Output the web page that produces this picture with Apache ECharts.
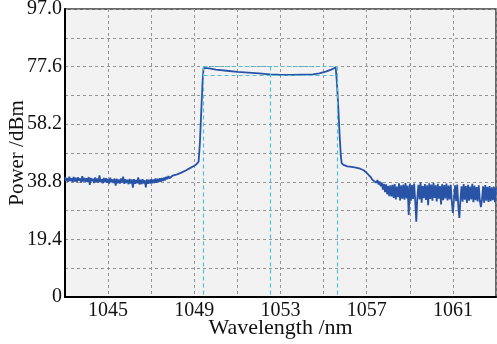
<!DOCTYPE html>
<html>
<head>
<meta charset="utf-8">
<script src="https://cdn.jsdelivr.net/npm/echarts@6/dist/echarts.min.js"></script>
<style>
  html, body { margin: 0; padding: 0; background: #fff; }
  #chart { width: 497px; height: 344px; }
</style>
</head>
<body>
<div id="chart"></div>
<script>
// Axis tick labels
const xLabelValues = [1045, 1049, 1053, 1057, 1061];
const yLabelValues = [0, 19.4, 38.8, 58.2, 77.6, 97.0];

// Sampling of the noisy spectrum wings (nm)
const sampleStep = 0.05;
const leftNoiseStart = 1043.0;
const leftNoiseValues = [
  40.3, 39.0, 40.1, 38.8, 40.5, 39.1, 40.0, 38.7, 40.4, 38.9,
  40.2, 38.6, 40.3, 39.2, 39.9, 38.5, 40.7, 38.9, 40.1, 38.8,
  40.0, 38.7, 40.4, 37.8, 40.1, 39.0, 39.8, 38.4, 40.3, 38.8,
  39.9, 38.5, 41.0, 38.7, 39.7, 38.3, 40.1, 38.6, 40.0, 38.5,
  39.7, 38.2, 40.2, 38.6, 39.6, 38.4, 39.9, 37.5, 39.8, 38.3,
  39.6, 38.2, 39.9, 38.5, 40.5, 38.1, 39.7, 38.4, 39.5, 38.0,
  39.8, 38.2, 39.6, 36.8, 39.7, 38.1, 39.4, 38.3, 40.3, 37.9,
  39.5, 38.0, 39.7, 38.2, 39.3, 36.9, 39.6, 38.1, 39.5, 38.2,
  39.7, 38.3, 39.6, 38.4, 39.9, 38.5, 39.8, 38.7, 40.0, 38.8,
  40.1, 39.1, 40.2, 39.3, 40.5, 39.7, 40.7, 40.0
];

// Rising edge of the pulse spectrum
const riseWl  = [1047.90, 1048.00, 1048.20, 1048.40, 1048.60, 1048.80, 1049.00, 1049.10, 1049.20, 1049.26, 1049.32, 1049.38, 1049.43];
const riseVal = [40.5, 40.9, 41.3, 41.9, 42.6, 43.4, 44.2, 44.7, 45.6, 52.0, 62.0, 72.0, 77.2];

// Flat top
const topWl  = [1049.50, 1049.70, 1050.00, 1050.50, 1051.00, 1051.50, 1052.00, 1052.50, 1052.70, 1052.78, 1052.85, 1053.00, 1053.50, 1054.00, 1054.50, 1054.80, 1055.10, 1055.35, 1055.56];
const topVal = [77.3, 77.0, 76.6, 76.2, 75.8, 75.6, 75.3, 75.0, 74.9, 75.2, 74.9, 74.8, 74.8, 74.9, 75.0, 75.3, 75.9, 76.6, 77.3];

// Falling edge and shoulder
const fallWl  = [1055.62, 1055.68, 1055.74, 1055.80, 1055.84, 1055.95, 1056.10, 1056.30, 1056.50, 1056.70, 1056.86, 1057.00, 1057.10];
const fallVal = [72.0, 64.0, 55.0, 47.5, 45.0, 44.4, 44.0, 43.8, 43.6, 43.2, 42.7, 41.8, 41.0];

const rightNoiseStart = 1057.2;
const rightNoiseValues = [
  40.3, 39.6, 40.0, 39.0, 39.6, 38.5, 39.4, 37.9, 38.9, 37.3,
  38.6, 36.2, 38.1, 35.3, 37.9, 34.6, 37.4, 34.0, 37.6, 33.9,
  37.8, 33.4, 38.0, 32.9, 37.2, 33.6, 38.3, 32.5, 37.6, 33.1,
  37.9, 32.8, 38.4, 33.2, 37.5, 27.6, 38.1, 32.4, 37.7, 33.0,
  38.2, 32.6, 25.4, 33.5, 37.8, 32.9, 38.6, 31.8, 37.4, 33.3,
  38.0, 32.7, 37.6, 30.9, 38.3, 33.0, 37.9, 32.4, 38.5, 33.4,
  37.6, 32.2, 38.1, 33.1, 37.4, 31.2, 38.0, 32.6, 37.7, 33.2,
  38.2, 32.5, 37.5, 32.9, 37.8, 32.0, 28.3, 33.0, 37.6, 32.3,
  37.9, 30.6, 26.6, 32.7, 37.3, 32.1, 38.0, 32.8, 37.4, 31.7,
  37.8, 32.4, 37.2, 32.9, 38.1, 31.9, 37.5, 32.6, 37.0, 32.2,
  37.6, 32.5, 30.3, 32.8, 37.3, 31.8, 37.7, 32.4, 37.1, 32.0,
  37.4, 32.3, 36.9, 32.6, 37.2, 31.9, 36.8
];

// 3 dB bandwidth markers
const bandEdges = [1049.43, 1055.64];
const bandCenter = 1052.53;
const peakLevel = 77.6;
const halfLevel = 74.6;

function sampled(start, values) {
  return values.map((v, i) => [+(start + i * sampleStep).toFixed(3), v]);
}
function paired(xs, ys) {
  return xs.map((x, i) => [x, ys[i]]);
}

const spectrum = []
  .concat(sampled(leftNoiseStart, leftNoiseValues))
  .concat(paired(riseWl, riseVal))
  .concat(paired(topWl, topVal))
  .concat(paired(fallWl, fallVal))
  .concat(sampled(rightNoiseStart, rightNoiseValues));

const serif = '"Liberation Serif", "DejaVu Serif", serif';

const chart = echarts.init(document.getElementById('chart'), null, { renderer: 'canvas' });
chart.setOption({
  animation: false,
  backgroundColor: '#ffffff',
  grid: {
    left: 65, right: 1, top: 9, bottom: 47,
    outerBoundsMode: 'none',
    containLabel: false,
    show: true,
    backgroundColor: '#f2f2f2',
    borderColor: '#3a3a3a',
    borderWidth: 1.5
  },
  xAxis: {
    type: 'value',
    min: 1043, max: 1063, interval: 2,
    name: 'Wavelength /nm',
    nameLocation: 'middle',
    nameGap: 20,
    nameMoveOverlap: false,
    nameTextStyle: { fontFamily: serif, fontSize: 22, color: '#111' },
    axisLine: { show: true, onZero: false, lineStyle: { color: '#000', width: 2 } },
    axisTick: { show: false },
    axisLabel: {
      fontFamily: serif, fontSize: 20, color: '#111', margin: 4,
      showMinLabel: false, showMaxLabel: false,
      formatter: v => xLabelValues.some(t => Math.abs(t - v) < 1e-6) ? String(Math.round(v)) : ''
    },
    splitLine: { show: true, lineStyle: { color: '#959595', type: [3, 3], width: 1 } }
  },
  yAxis: {
    type: 'value',
    min: 0, max: 97, interval: 9.7,
    name: 'Power /dBm',
    nameLocation: 'middle',
    nameGap: 37,
    nameMoveOverlap: false,
    nameTextStyle: { fontFamily: serif, fontSize: 21, color: '#111' },
    axisLine: { show: true, onZero: false, lineStyle: { color: '#000', width: 2 } },
    axisTick: { show: false },
    axisLabel: {
      fontFamily: serif, fontSize: 20, color: '#111', margin: 3,
      formatter: v => {
        const t = yLabelValues.find(t => Math.abs(t - v) < 1e-6);
        if (t === undefined) return '';
        return t === 0 ? '0' : t.toFixed(1);
      }
    },
    splitLine: { show: true, lineStyle: { color: '#959595', type: [3, 3], width: 1 } }
  },
  series: [
    {
      type: 'line',
      data: spectrum,
      showSymbol: false,
      lineStyle: { color: '#2853a6', width: 1.8 },
      z: 3,
      markLine: {
        silent: true,
        symbol: ['none', 'none'],
        label: { show: false },
        lineStyle: { color: '#4cc4d6', type: [4, 3], width: 1.2 },
        data: [
          [{ coord: [bandEdges[0], peakLevel] }, { coord: [bandEdges[1], peakLevel] }],
          [{ coord: [bandEdges[0], halfLevel] }, { coord: [bandEdges[1], halfLevel] }],
          [{ coord: [bandEdges[0], peakLevel] }, { coord: [bandEdges[0], 0] }],
          [{ coord: [bandEdges[1], peakLevel] }, { coord: [bandEdges[1], 0] }],
          [{ coord: [bandCenter, peakLevel] }, { coord: [bandCenter, 0] }]
        ]
      }
    }
  ]
});
</script>
</body>
</html>
